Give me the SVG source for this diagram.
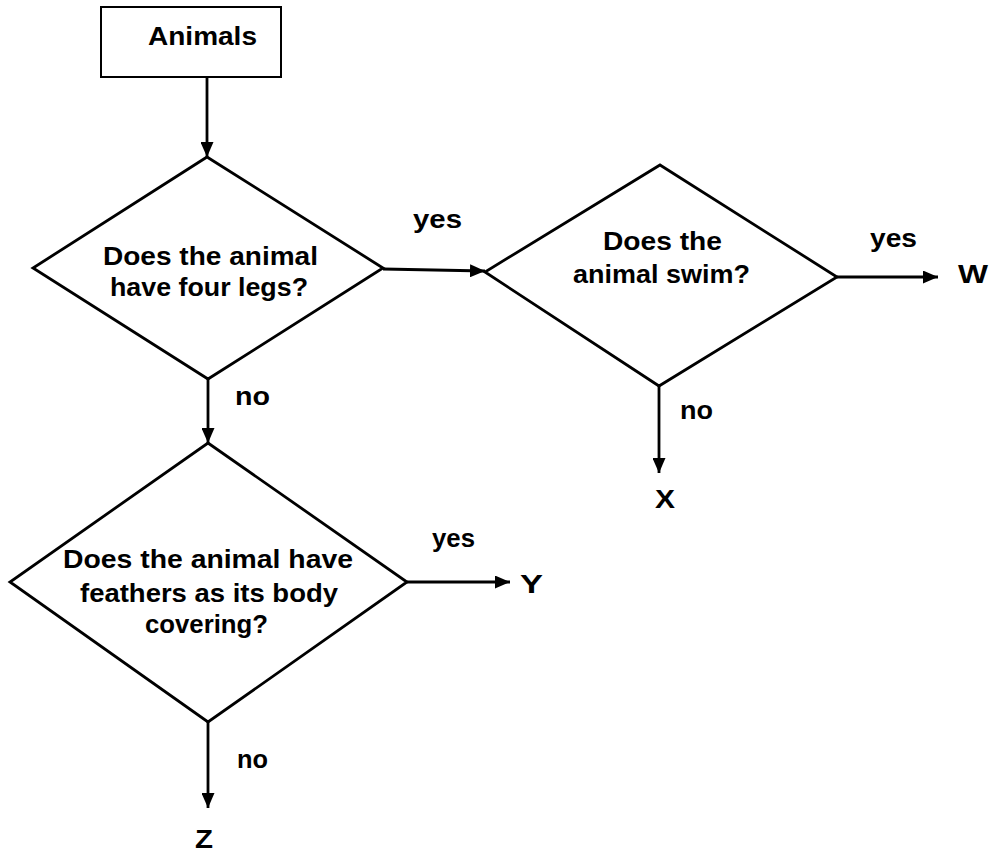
<svg xmlns="http://www.w3.org/2000/svg" width="990" height="853" viewBox="0 0 990 853">
<style>
.box{fill:#fff;stroke:#000;stroke-width:2}
.dia{fill:#fff;stroke:#000;stroke-width:2.8;stroke-linejoin:miter}
.t{font-family:"Liberation Sans",Arial,sans-serif;font-weight:bold;font-size:25px;fill:#000}
.lbl{font-family:"Liberation Sans",Arial,sans-serif;font-weight:bold;font-size:25px;fill:#000}
.end{font-family:"Liberation Sans",Arial,sans-serif;font-weight:bold;font-size:26px;fill:#000}
.c{fill:none;stroke:#000;stroke-width:2.8;marker-end:url(#ah)}
</style>
<defs>
<marker id="ah" markerUnits="userSpaceOnUse" markerWidth="16" markerHeight="13" refX="15" refY="6.5" orient="auto">
<path d="M0,0 L15,6.5 L0,13 z" fill="#000"/>
</marker>
</defs>
<rect width="990" height="853" fill="#fff"/>
<g id="connectors">
<line class="c" x1="207" y1="77" x2="207" y2="157"/>
<line class="c" x1="383" y1="269" x2="485" y2="271"/>
<line class="c" x1="837" y1="277" x2="938" y2="277"/>
<line class="c" x1="659" y1="386" x2="659" y2="473"/>
<line class="c" x1="208" y1="379" x2="208" y2="443"/>
<line class="c" x1="407" y1="582" x2="510" y2="582"/>
<line class="c" x1="208" y1="722" x2="208" y2="808"/>
<text class="lbl" x="413" y="228" textLength="49" lengthAdjust="spacingAndGlyphs">yes</text>
<text class="lbl" x="235" y="405" textLength="35" lengthAdjust="spacingAndGlyphs">no</text>
<text class="lbl" x="870" y="247" textLength="47" lengthAdjust="spacingAndGlyphs">yes</text>
<text class="lbl" x="680" y="419" textLength="33" lengthAdjust="spacingAndGlyphs">no</text>
<text class="lbl" x="432" y="547" textLength="43" lengthAdjust="spacingAndGlyphs">yes</text>
<text class="lbl" x="237" y="768" textLength="31" lengthAdjust="spacingAndGlyphs">no</text>
</g>
<g id="animals">
<rect class="box" x="101" y="7" width="180" height="70"/>
<text class="t" x="148" y="45" textLength="109" lengthAdjust="spacingAndGlyphs">Animals</text>
</g>
<g id="q-four-legs">
<polygon class="dia" points="207,157 383,268 208,379 33,268"/>
<text class="t" x="103" y="265" textLength="215" lengthAdjust="spacingAndGlyphs">Does the animal</text>
<text class="t" x="110" y="296" textLength="198" lengthAdjust="spacingAndGlyphs">have four legs?</text>
</g>
<g id="q-swim">
<polygon class="dia" points="660,165 837,277 659,386 485,272"/>
<text class="t" x="603" y="250" textLength="119" lengthAdjust="spacingAndGlyphs">Does the</text>
<text class="t" x="573" y="283" textLength="177" lengthAdjust="spacingAndGlyphs">animal swim?</text>
</g>
<g id="q-feathers">
<polygon class="dia" points="208,443 407,582 208,722 10,582"/>
<text class="t" x="63" y="568" textLength="290" lengthAdjust="spacingAndGlyphs">Does the animal have</text>
<text class="t" x="80" y="602" textLength="258" lengthAdjust="spacingAndGlyphs">feathers as its body</text>
<text class="t" x="145" y="633" textLength="123" lengthAdjust="spacingAndGlyphs">covering?</text>
</g>
<g id="W"><text class="end" x="958" y="283" textLength="30" lengthAdjust="spacingAndGlyphs">W</text></g>
<g id="X"><text class="end" x="655" y="508" textLength="20" lengthAdjust="spacingAndGlyphs">X</text></g>
<g id="Y"><text class="end" x="520" y="593" textLength="23" lengthAdjust="spacingAndGlyphs">Y</text></g>
<g id="Z"><text class="end" x="195" y="848" textLength="18" lengthAdjust="spacingAndGlyphs">Z</text></g>
</svg>
